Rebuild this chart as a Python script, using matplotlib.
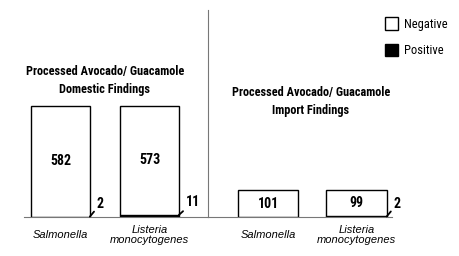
import matplotlib.pyplot as plt
from matplotlib.patches import Patch

categories = ['Salmonella', 'Listeria\nmonocytogenes']
domestic_negative = [582, 573]
domestic_positive = [2, 11]
import_negative = [101, 99]
import_positive = [0, 2]

cond = ['Roboto Condensed', 'Asap Condensed', 'Archivo Narrow', 'DejaVu Sans']
plain = ['Liberation Sans', 'DejaVu Sans']

W, H = 460, 256
fig = plt.figure(figsize=(4.6, 2.56), dpi=100)

def px_axes(x0, x1, y_top, y_bot):
    return fig.add_axes([x0 / W, 1 - y_bot / H, (x1 - x0) / W, (y_bot - y_top) / H])

ax1 = px_axes(24, 208, 10, 217)
ax2 = px_axes(208, 392, 10, 217)

def draw_panel(ax, neg, pos, width, xlim, ymax):
    x = list(range(len(categories)))
    ax.bar(x, pos, width, color='black', edgecolor='black', linewidth=1)
    bars = ax.bar(x, neg, width, bottom=pos, color='white', edgecolor='black', linewidth=1)
    ax.bar_label(bars, label_type='center', fontsize=10, fontweight='bold', family=cond)
    for i, p in enumerate(pos):
        if p > 0:
            ax.annotate(str(p), xy=(i + width / 2, p), xytext=(5, 4), textcoords='offset points',
                        ha='left', va='bottom', fontsize=10, fontweight='bold', family=cond,
                        arrowprops=dict(arrowstyle='-', lw=1.3, color='black', shrinkA=0, shrinkB=0))
    ax.set_xlim(*xlim)
    ax.set_ylim(0, ymax)
    ax.set_yticks([])
    ax.set_xticks(x)
    ax.set_xticklabels(categories, fontsize=8, style='italic', family=plain, linespacing=1.0)
    for t in ax.get_xticklabels():
        t.set_verticalalignment('center')
    ax.tick_params(axis='x', length=0, pad=13)
    for s in ['top', 'right']:
        ax.spines[s].set_visible(False)
    ax.spines['bottom'].set_color('#777777')
    ax.spines['left'].set_color('#777777')

draw_panel(ax1, domestic_negative, domestic_positive, 0.66, (-0.41, 1.657), 1085)
draw_panel(ax2, import_negative, import_positive, 0.68, (-0.678, 1.40), 775)
ax1.spines['left'].set_visible(False)

fig.text(105 / W, 1 - 80.5 / H, 'Processed Avocado/ Guacamole\nDomestic Findings', ha='center', va='center',
         fontsize=8.8, fontweight='bold', family=cond, linespacing=1.55)
fig.text(311 / W, 1 - 101.5 / H, 'Processed Avocado/ Guacamole\nImport Findings', ha='center', va='center',
         fontsize=8.8, fontweight='bold', family=cond, linespacing=1.55)

handles = [Patch(facecolor='white', edgecolor='black', label='Negative'),
           Patch(facecolor='black', edgecolor='black', label='Positive')]
leg = fig.legend(handles=handles, loc='upper left', bbox_to_anchor=(374 / W, 1 - 6 / H), frameon=False,
                 prop={'family': cond, 'size': 9}, handlelength=1.05, handleheight=1.15,
                 labelspacing=1.05, handletextpad=0.45)

fig.savefig('out.png', dpi=100)
